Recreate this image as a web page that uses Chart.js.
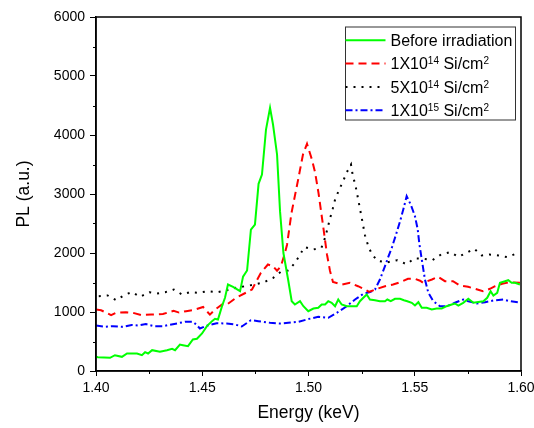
<!DOCTYPE html>
<html>
<head>
<meta charset="utf-8">
<script src="https://cdn.jsdelivr.net/npm/chart.js@4.4.1/dist/chart.umd.min.js"></script>
<style>
  html, body { margin: 0; padding: 0; background: #fff; }
  #wrap { width: 534px; height: 428px; position: relative; }
</style>
</head>
<body>
<div id="wrap"><canvas id="plChart"></canvas></div>
<script>
// values: energy in keV, PL in a.u.
const energyBefore = [1.4000, 1.4009, 1.4066, 1.4089, 1.4122, 1.4146, 1.4193, 1.4216, 1.4231, 1.4245,
  1.4264, 1.4301, 1.4334, 1.4358, 1.4372, 1.4395, 1.4409, 1.4433, 1.4456, 1.4475,
  1.4499, 1.4522, 1.4546, 1.4560, 1.4574, 1.4593, 1.4607, 1.4621, 1.4645, 1.4678,
  1.4692, 1.4711, 1.4729, 1.4748, 1.4765, 1.4781, 1.4800, 1.4819, 1.4833, 1.4852,
  1.4866, 1.4882, 1.4904, 1.4921, 1.4936, 1.4960, 1.4976, 1.4999, 1.5023, 1.5046,
  1.5062, 1.5078, 1.5093, 1.5109, 1.5125, 1.5140, 1.5156, 1.5180, 1.5227, 1.5242,
  1.5258, 1.5274, 1.5289, 1.5313, 1.5336, 1.5360, 1.5371, 1.5387, 1.5407, 1.5431,
  1.5449, 1.5465, 1.5486, 1.5501, 1.5517, 1.5533, 1.5556, 1.5580, 1.5603, 1.5627,
  1.5650, 1.5674, 1.5689, 1.5705, 1.5728, 1.5752, 1.5776, 1.5799, 1.5823, 1.5841,
  1.5857, 1.5870, 1.5888, 1.5901, 1.5925, 1.5940, 1.5956, 1.5972, 1.5995];
const plBefore = [240, 234, 223, 268, 240, 297, 297, 268, 319, 297,
  353, 325, 353, 376, 353, 449, 438, 421, 534, 546,
  636, 760, 845, 885, 873, 1099, 1241, 1466, 1427, 1353,
  1600, 1703, 2398, 2483, 3173, 3331, 4093, 4461, 4178, 3670,
  2709, 2000, 1551, 1183, 1127, 1183, 1098, 1014, 1059, 1071,
  1127, 1127, 1183, 1156, 1098, 1212, 1127, 1098, 1098, 1183,
  1241, 1297, 1212, 1200, 1183, 1183, 1212, 1183, 1224, 1224,
  1200, 1183, 1156, 1110, 1166, 1071, 1071, 1042, 1059, 1059,
  1098, 1127, 1144, 1110, 1156, 1224, 1156, 1170, 1183, 1241,
  1353, 1280, 1325, 1495, 1522, 1539, 1495, 1495, 1466];

const energy1e14 = [1.4000, 1.4024, 1.4071, 1.4094, 1.4141, 1.4174, 1.4212, 1.4259, 1.4315, 1.4365,
  1.4391, 1.4424, 1.4456, 1.4504, 1.4536, 1.4560, 1.4593, 1.4616, 1.4659, 1.4734,
  1.4776, 1.4809, 1.4833, 1.4852, 1.4870, 1.4889, 1.4899, 1.4920, 1.4951, 1.4974,
  1.4993, 1.5016, 1.5031, 1.5047, 1.5071, 1.5087, 1.5101, 1.5115, 1.5158, 1.5195,
  1.5233, 1.5266, 1.5285, 1.5322, 1.5360, 1.5398, 1.5431, 1.5468, 1.5501, 1.5525,
  1.5539, 1.5581, 1.5609, 1.5642, 1.5680, 1.5713, 1.5751, 1.5784, 1.5821, 1.5854,
  1.5878, 1.5911, 1.5948, 1.5995];
const pl1e14 = [1042, 1030, 946, 986, 997, 986, 950, 958, 965, 1020,
  990, 1014, 1031, 1085, 955, 1040, 1127, 1127, 1240, 1380,
  1665, 1805, 1776, 1700, 1776, 2000, 2140, 2680, 3240, 3670,
  3850, 3585, 3365, 3020, 2400, 1975, 1700, 1510, 1466, 1495,
  1437, 1381, 1340, 1393, 1437, 1466, 1505, 1563, 1563, 1530,
  1495, 1551, 1597, 1522, 1522, 1449, 1427, 1393, 1353, 1393,
  1437, 1478, 1505, 1495];

const energy5e14 = [1.4013, 1.4055, 1.4094, 1.4138, 1.4169, 1.4207, 1.4251, 1.4287, 1.4326, 1.4366,
  1.4405, 1.4442, 1.4479, 1.4528, 1.4571, 1.4615, 1.4659, 1.4701, 1.4748, 1.4791,
  1.4834, 1.4869, 1.4905, 1.4936, 1.4958, 1.4981, 1.5023, 1.5061, 1.5078, 1.5089,
  1.5101, 1.5114, 1.5126, 1.5145, 1.5164, 1.5183, 1.5200, 1.5208, 1.5220, 1.5230,
  1.5239, 1.5248, 1.5266, 1.5280, 1.5297, 1.5324, 1.5369, 1.5418, 1.5461, 1.5499,
  1.5540, 1.5584, 1.5624, 1.5666, 1.5705, 1.5744, 1.5780, 1.5815, 1.5851, 1.5893,
  1.5936, 1.5979];
const pl5e14 = [1268, 1280, 1200, 1297, 1336, 1258, 1336, 1314, 1336, 1381,
  1297, 1336, 1325, 1353, 1336, 1370, 1410, 1437, 1466, 1505,
  1580, 1680, 1705, 1830, 1960, 2100, 2060, 2090, 2258, 2412,
  2582, 2749, 2919, 3077, 3229, 3387, 3500, 3319, 3161, 2980,
  2810, 2641, 2297, 2132, 1987, 1868, 1840, 1878, 1810, 1910,
  1902, 1880, 1975, 2014, 1936, 2003, 2071, 1958, 1975, 1958,
  1929, 1992];

const energy1e15 = [1.4000, 1.4039, 1.4079, 1.4126, 1.4168, 1.4199, 1.4235, 1.4274, 1.4314, 1.4348,
  1.4386, 1.4419, 1.4455, 1.4471, 1.4489, 1.4520, 1.4568, 1.4615, 1.4654, 1.4686,
  1.4729, 1.4764, 1.4819, 1.4866, 1.4905, 1.4952, 1.4999, 1.5046, 1.5093, 1.5133,
  1.5180, 1.5219, 1.5258, 1.5289, 1.5313, 1.5336, 1.5360, 1.5375, 1.5393, 1.5412,
  1.5431, 1.5446, 1.5462, 1.5481, 1.5501, 1.5514, 1.5521, 1.5533, 1.5548, 1.5564,
  1.5587, 1.5619, 1.5650, 1.5689, 1.5728, 1.5752, 1.5792, 1.5831, 1.5870, 1.5917,
  1.5948, 1.5995];
const pl1e15 = [771, 749, 760, 749, 780, 771, 795, 760, 760, 785,
  810, 834, 834, 790, 720, 765, 810, 805, 788, 755,
  861, 845, 817, 805, 817, 834, 880, 919, 902, 986,
  1098, 1212, 1308, 1336, 1381, 1551, 1776, 1930, 2100, 2314,
  2539, 2737, 2963, 2822, 2624, 2398, 2173, 1890, 1551, 1325,
  1183, 1098, 1098, 1156, 1212, 1183, 1144, 1166, 1195, 1212,
  1183, 1160];

// legend text, ^{..} marks a superscript
const seriesNames = ["Before irradiation", "1X10^{14} Si/cm^{2}", "5X10^{14} Si/cm^{2}", "1X10^{15} Si/cm^{2}"];
const seriesColors = ["#00ff00", "#ff0000", "#000000", "#0000ff"];
const seriesDash = [[], [8, 5], [2, 6], [7, 3, 2, 3]];

const xMajorTicks = [1.40, 1.45, 1.50, 1.55, 1.60];
const xMinorTicks = [1.425, 1.475, 1.525, 1.575];
const yMajorTicks = [0, 1000, 2000, 3000, 4000, 5000, 6000];
const yMinorTicks = [500, 1500, 2500, 3500, 4500, 5500];

Chart.defaults.font.family = "Arial, 'Liberation Sans', sans-serif";
Chart.defaults.color = "#000";

function toPoints(xs, ys) {
  return xs.map((x, i) => ({ x: x, y: ys[i] }));
}

function plainName(s) {
  return s.replace(/\^\{14\}/g, "\u00b9\u2074").replace(/\^\{15\}/g, "\u00b9\u2075").replace(/\^\{2\}/g, "\u00b2");
}

// frame on top/right, minor ticks and the boxed legend
const framePlugin = {
  id: "frame",
  afterDraw(chart) {
    const { ctx, chartArea: a, scales } = chart;
    ctx.save();
    ctx.strokeStyle = "#000";
    ctx.lineWidth = 1.5;
    ctx.strokeRect(a.left, a.top, a.right - a.left, a.bottom - a.top);

    ctx.lineWidth = 1;
    ctx.beginPath();
    for (const v of xMinorTicks) {
      const px = Math.round(scales.x.getPixelForValue(v)) + 0.5;
      ctx.moveTo(px, a.bottom);
      ctx.lineTo(px, a.bottom + 3);
    }
    for (const v of yMinorTicks) {
      const py = Math.round(scales.y.getPixelForValue(v)) + 0.5;
      ctx.moveTo(a.left - 3, py);
      ctx.lineTo(a.left, py);
    }
    ctx.stroke();

    // legend box
    const bx = a.right - 175.5, by = a.top + 10, bw = 170, bh = 93;
    ctx.fillStyle = "#fff";
    ctx.fillRect(bx, by, bw, bh);
    ctx.strokeStyle = "#333";
    ctx.lineWidth = 1;
    ctx.strokeRect(bx, by, bw, bh);

    for (let i = 0; i < seriesNames.length; i++) {
      const cy = by + 13.3 + i * 23.3;
      ctx.beginPath();
      ctx.strokeStyle = seriesColors[i];
      ctx.lineWidth = 2;
      ctx.setLineDash(seriesDash[i]);
      ctx.moveTo(bx, cy);
      ctx.lineTo(bx + 40, cy);
      ctx.stroke();
      ctx.setLineDash([]);

      const parts = seriesNames[i].split(/\^\{(.*?)\}/);
      let tx = bx + 45;
      ctx.fillStyle = "#000";
      ctx.textBaseline = "alphabetic";
      ctx.textAlign = "left";
      parts.forEach((p, k) => {
        if (k % 2 === 0) {
          ctx.font = "16px Arial, 'Liberation Sans', sans-serif";
          ctx.fillText(p, tx, cy + 5.8);
        } else {
          ctx.font = "10px Arial, 'Liberation Sans', sans-serif";
          ctx.fillText(p, tx, cy + 0.8);
        }
        tx += ctx.measureText(p).width;
      });
    }
    ctx.restore();
  }
};

const energies = [energyBefore, energy1e14, energy5e14, energy1e15];
const intensities = [plBefore, pl1e14, pl5e14, pl1e15];

let datasets = [];
for (let i = 0; i < seriesNames.length; i++) {
  datasets.push({
    label: plainName(seriesNames[i]),
    data: toPoints(energies[i], intensities[i]),
    borderColor: seriesColors[i],
    borderWidth: 2,
    borderDash: seriesDash[i],
    pointRadius: 0,
    tension: 0,
    fill: false
  });
}

new Chart(document.getElementById("plChart"), {
  type: "line",
  data: { datasets: datasets },
  options: {
    responsive: true,
    maintainAspectRatio: false,
    animation: false,
    devicePixelRatio: 1,
    layout: { padding: { top: 17, right: 13, left: 0, bottom: 0 } },
    plugins: {
      legend: { display: false },
      tooltip: { enabled: false }
    },
    scales: {
      x: {
        type: "linear",
        min: 1.4,
        max: 1.6,
        afterBuildTicks: (axis) => { axis.ticks = xMajorTicks.map((v) => ({ value: v })); },
        afterFit: (axis) => {
          axis.height = 57;
          axis.paddingLeft = 0; // let the "1.60" label hang past the frame
          axis.paddingRight = 0;
        },
        ticks: {
          font: { size: 14 },
          padding: 4,
          maxRotation: 0,
          autoSkip: false,
          callback: (v) => Number(v).toFixed(2)
        },
        grid: { drawOnChartArea: false, drawTicks: true, tickLength: 5, tickColor: "#000", tickWidth: 1 },
        border: { display: true, color: "#000", width: 1.5 },
        title: { display: true, text: "Energy (keV)", font: { size: 17.5 }, padding: { top: 0, bottom: 4 } }
      },
      y: {
        min: 0,
        max: 6000,
        afterBuildTicks: (axis) => { axis.ticks = yMajorTicks.map((v) => ({ value: v })); },
        afterFit: (axis) => {
          axis.width = 96;
          axis.paddingTop = 0;
          axis.paddingBottom = 0;
        },
        ticks: { font: { size: 14 }, padding: 5, callback: (v) => String(v) },
        grid: { drawOnChartArea: false, drawTicks: true, tickLength: 6, tickColor: "#000", tickWidth: 1 },
        border: { display: true, color: "#000", width: 1.5 },
        title: { display: true, text: "PL (a.u.)", font: { size: 17.5 }, padding: { top: 14, bottom: 0 } }
      }
    }
  },
  plugins: [framePlugin]
});
</script>
</body>
</html>
